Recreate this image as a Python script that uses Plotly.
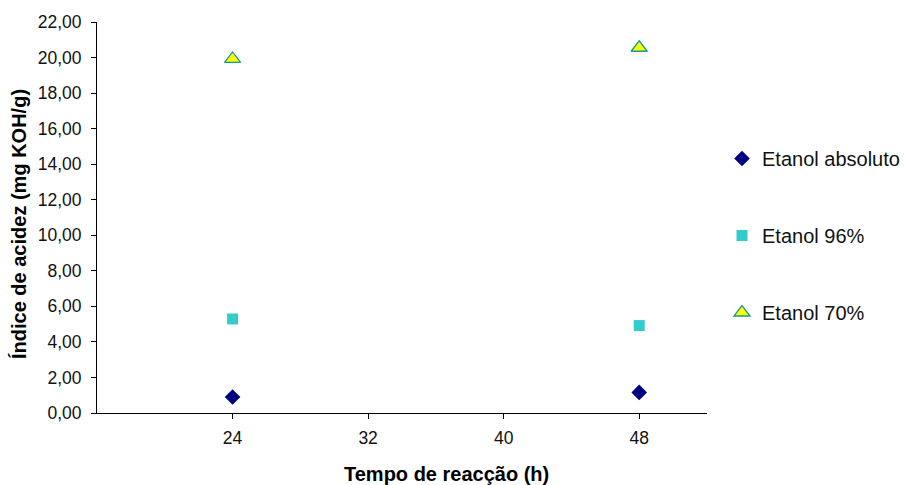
import plotly.graph_objects as go

tempo = [24, 48]
etanol_absoluto = [0.90, 1.16]
etanol_96 = [5.29, 4.92]
etanol_70 = [19.92, 20.55]

x_ticks = [24, 32, 40, 48]
y_ticks = [0, 2, 4, 6, 8, 10, 12, 14, 16, 18, 20, 22]
y_labels = [f"{v:.2f}".replace(".", ",") for v in y_ticks]

FONT = "Liberation Sans, Arial, sans-serif"

# plot area in pixels
L, R, T, B = 97, 707, 22, 413
W, H = 904, 485


def px_to_paper(px, py):
    return (px - L) / (R - L), (B - py) / (B - T)


fig = go.Figure()
fig.add_trace(go.Scatter(x=tempo, y=etanol_absoluto, mode="markers", name="Etanol absoluto",
                         legendgroup="a",
                         marker=dict(symbol="diamond", size=12, color="#000080",
                                     line=dict(width=0))))
fig.add_trace(go.Scatter(x=tempo, y=etanol_96, mode="markers", name="Etanol 96%",
                         legendgroup="b",
                         marker=dict(symbol="square", size=11, color="#33CCCC",
                                     line=dict(width=0))))
fig.add_trace(go.Scatter(x=tempo, y=etanol_70, mode="markers", name="Etanol 70%",
                         legendgroup="c",
                         marker=dict(symbol="triangle-up", size=14, color="#FFFF00",
                                     line=dict(width=1.3, color="#119999"))))

xt_x, xt_y = px_to_paper(446, 474)
yt_x, yt_y = px_to_paper(19, 224)
lg_x, lg_y = px_to_paper(722, 139)

fig.update_layout(
    width=W, height=H,
    margin=dict(l=L, r=W - R, t=T, b=H - B, autoexpand=False),
    paper_bgcolor="white", plot_bgcolor="white",
    font=dict(family=FONT, size=17.5, color="black"),
    showlegend=True,
    legend=dict(x=lg_x, xanchor="left", y=lg_y, yanchor="top",
                font=dict(family=FONT, size=20, color="#111111"),
                tracegroupgap=48, itemwidth=30, bgcolor="rgba(0,0,0,0)"),
    xaxis=dict(range=[16, 52], tickvals=x_ticks, ticktext=[str(v) for v in x_ticks],
               showgrid=False, zeroline=False, showline=True, linecolor="black", linewidth=1,
               ticks="outside", ticklen=5, tickcolor="black", ticklabelstandoff=4,
               tickfont=dict(family=FONT, size=17.5, color="#111111")),
    yaxis=dict(range=[0, 22], tickvals=y_ticks, ticktext=y_labels,
               showgrid=False, zeroline=False, showline=True, linecolor="black", linewidth=1,
               ticks="outside", ticklen=5, tickcolor="black", ticklabelstandoff=6,
               tickfont=dict(family=FONT, size=17.5, color="#111111")),
    annotations=[
        dict(text="<b>Tempo de reacção (h)</b>", x=xt_x, y=xt_y, xref="paper", yref="paper",
             xanchor="center", yanchor="middle", showarrow=False,
             font=dict(family=FONT, size=20, color="black")),
        dict(text="<b>Índice de acidez (mg KOH/g)</b>", x=yt_x, y=yt_y, xref="paper", yref="paper",
             xanchor="center", yanchor="middle", textangle=-90, showarrow=False,
             font=dict(family=FONT, size=20, color="black")),
    ],
)

fig.write_html("out.html")
